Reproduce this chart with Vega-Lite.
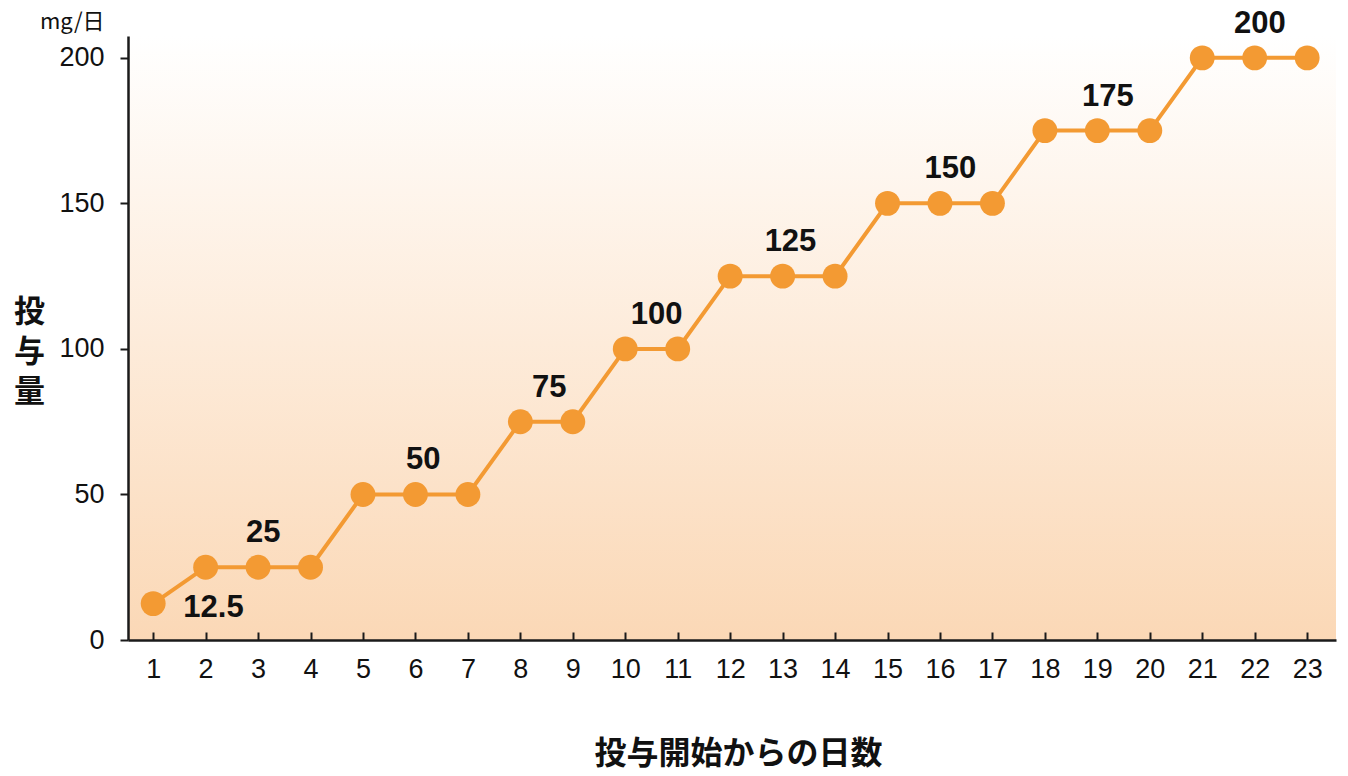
{
  "$schema": "https://vega.github.io/schema/vega-lite/v6.json",
  "width": 1208,
  "height": 604,
  "autosize": {"type": "none"},
  "padding": {"left": 128, "top": 36, "right": 12, "bottom": 136},
  "background": "#ffffff",
  "config": {"view": {"stroke": null}, "font": "Liberation Sans"},
  "title": {
    "text": "mg/日",
    "anchor": "start",
    "frame": "group",
    "dx": -88,
    "dy": 31,
    "offset": 5,
    "fontSize": 22,
    "fontWeight": "normal",
    "font": "Noto Sans CJK JP",
    "color": "#111111"
  },
  "datasets": {
    "dose": [
      {"day": 1, "dose": 12.5}, {"day": 2, "dose": 25}, {"day": 3, "dose": 25}, {"day": 4, "dose": 25},
      {"day": 5, "dose": 50}, {"day": 6, "dose": 50}, {"day": 7, "dose": 50},
      {"day": 8, "dose": 75}, {"day": 9, "dose": 75},
      {"day": 10, "dose": 100}, {"day": 11, "dose": 100},
      {"day": 12, "dose": 125}, {"day": 13, "dose": 125}, {"day": 14, "dose": 125},
      {"day": 15, "dose": 150}, {"day": 16, "dose": 150}, {"day": 17, "dose": 150},
      {"day": 18, "dose": 175}, {"day": 19, "dose": 175}, {"day": 20, "dose": 175},
      {"day": 21, "dose": 200}, {"day": 22, "dose": 200}, {"day": 23, "dose": 200}
    ],
    "labels": [
      {"day": 2.15, "dose": 12.5, "label": "12.5", "pos": "below"},
      {"day": 3.1, "dose": 25, "label": "25", "pos": "above"},
      {"day": 6.15, "dose": 50, "label": "50", "pos": "above"},
      {"day": 8.55, "dose": 75, "label": "75", "pos": "above"},
      {"day": 10.6, "dose": 100, "label": "100", "pos": "above"},
      {"day": 13.15, "dose": 125, "label": "125", "pos": "above"},
      {"day": 16.2, "dose": 150, "label": "150", "pos": "above"},
      {"day": 19.2, "dose": 175, "label": "175", "pos": "above"},
      {"day": 22.1, "dose": 200, "label": "200", "pos": "above"}
    ]
  },
  "layer": [
    {
      "data": {"values": [{}]},
      "mark": {
        "type": "rect",
        "color": {
          "gradient": "linear",
          "x1": 0, "y1": 0, "x2": 0, "y2": 1,
          "stops": [
            {"offset": 0, "color": "#ffffff"},
            {"offset": 1, "color": "#fbd8b6"}
          ]
        }
      },
      "encoding": {
        "x": {"value": 0},
        "x2": {"value": "width"},
        "y": {"value": 0},
        "y2": {"value": "height"}
      }
    },
    {
      "data": {"name": "dose"},
      "mark": {"type": "line", "color": "#f39a33", "strokeWidth": 4},
      "encoding": {
        "x": {
          "field": "day", "type": "quantitative",
          "scale": {"domain": [0.52, 23.55], "nice": false, "zero": false},
          "axis": {
            "zindex": 1,
            "values": [1,2,3,4,5,6,7,8,9,10,11,12,13,14,15,16,17,18,19,20,21,22,23],
            "grid": false,
            "domainColor": "#1a1a1a",
            "domainWidth": 2.5,
            "tickColor": "#1a1a1a",
            "tickWidth": 2,
            "tickSize": -8,
            "labelFontSize": 27,
            "labelColor": "#111111",
            "labelPadding": 24,
            "labelFont": "Liberation Sans",
            "title": "投与開始からの日数",
            "titleFont": "Noto Sans CJK JP",
            "titleFontSize": 32,
            "titleFontWeight": "bold",
            "titleColor": "#111111",
            "titleX": 610,
            "titleY": 113,
            "titleBaseline": "middle"
          }
        },
        "y": {
          "field": "dose", "type": "quantitative",
          "scale": {"domain": [0, 207.5], "nice": false},
          "axis": {
            "zindex": 1,
            "values": [0, 50, 100, 150, 200],
            "grid": false,
            "domainColor": "#1a1a1a",
            "domainWidth": 2.5,
            "tickColor": "#1a1a1a",
            "tickWidth": 2,
            "tickSize": 8,
            "labelFontSize": 27,
            "labelColor": "#111111",
            "labelPadding": 16,
            "labelFont": "Liberation Sans",
            "title": ["投", "与", "量"],
            "titleFont": "Noto Sans CJK JP",
            "titleFontSize": 31,
            "titleFontWeight": "bold",
            "titleColor": "#111111",
            "titleAngle": 0,
            "titleX": -99,
            "titleY": 276,
            "titleAlign": "center",
            "titleBaseline": "middle",
            "titleLineHeight": 40
          }
        }
      }
    },
    {
      "data": {"name": "dose"},
      "mark": {"type": "point", "filled": true, "shape": "circle", "size": 620, "color": "#f39a33", "opacity": 1},
      "encoding": {
        "x": {"field": "day", "type": "quantitative"},
        "y": {"field": "dose", "type": "quantitative"}
      }
    },
    {
      "data": {"name": "labels"},
      "transform": [{"filter": "datum.pos == 'above'"}],
      "mark": {"type": "text", "fontSize": 31, "fontWeight": "bold", "font": "Liberation Sans", "color": "#111111", "dy": -34, "baseline": "middle"},
      "encoding": {
        "x": {"field": "day", "type": "quantitative"},
        "y": {"field": "dose", "type": "quantitative"},
        "text": {"field": "label"}
      }
    },
    {
      "data": {"name": "labels"},
      "transform": [{"filter": "datum.pos == 'below'"}],
      "mark": {"type": "text", "fontSize": 31, "fontWeight": "bold", "font": "Liberation Sans", "color": "#111111", "dy": 4, "baseline": "middle"},
      "encoding": {
        "x": {"field": "day", "type": "quantitative"},
        "y": {"field": "dose", "type": "quantitative"},
        "text": {"field": "label"}
      }
    }
  ]
}
